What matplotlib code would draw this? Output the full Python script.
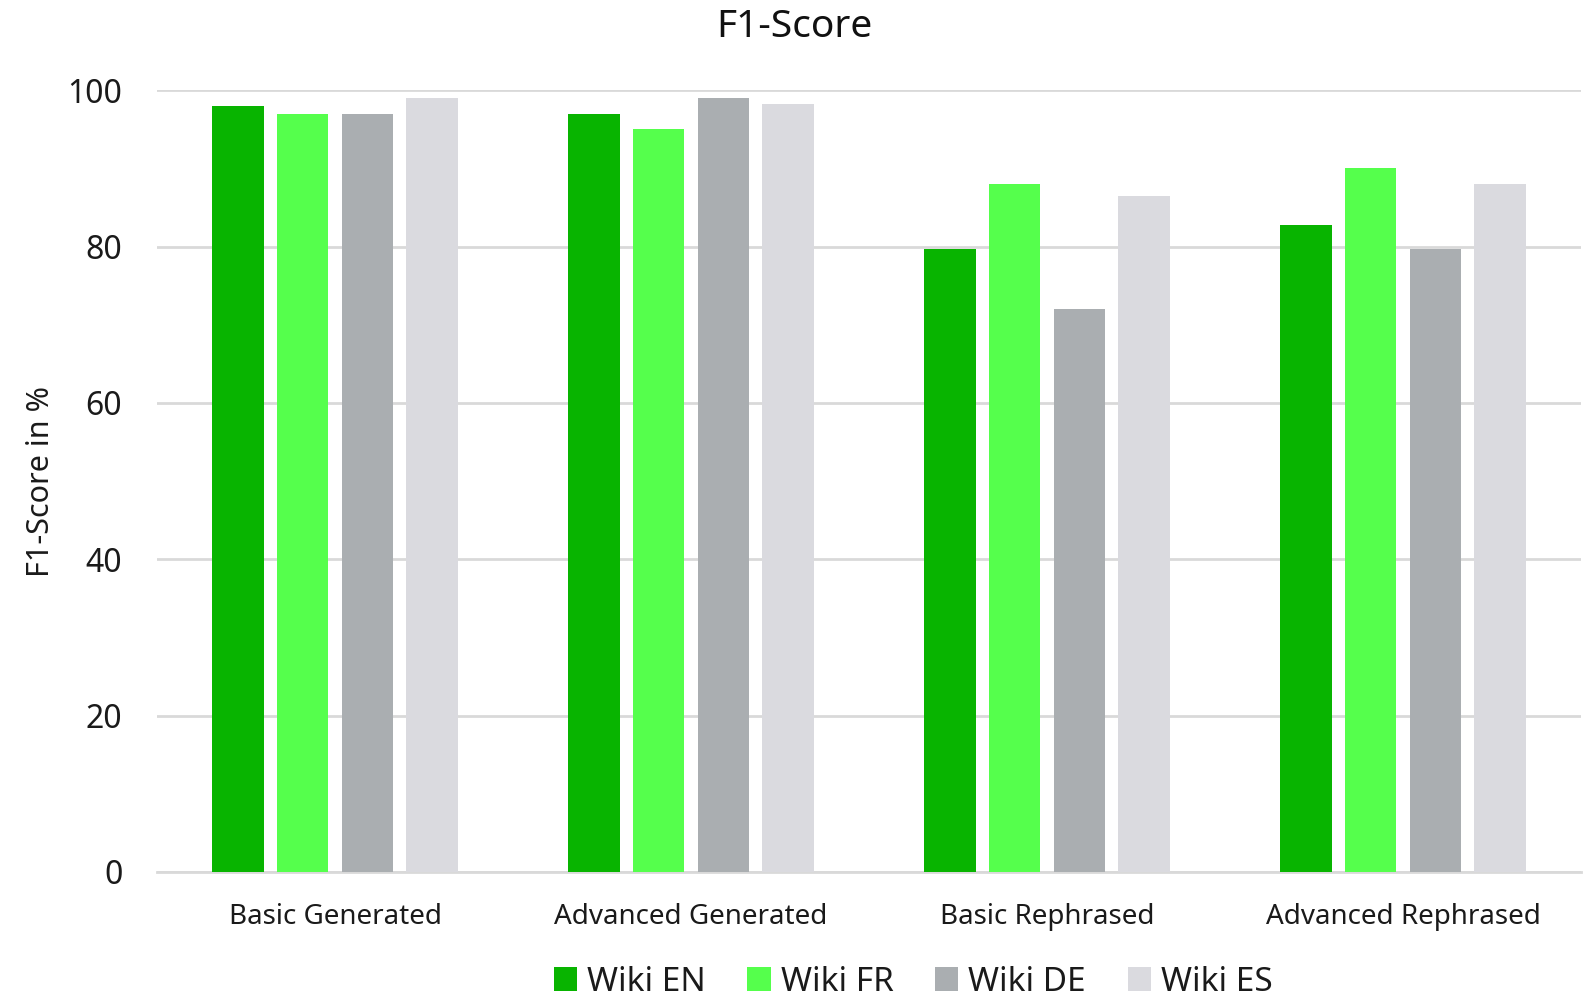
import numpy as np
import matplotlib
matplotlib.use("Agg")
import matplotlib.pyplot as plt

plt.rcParams['font.family'] = ['Noto Sans', 'DejaVu Sans']

categories = ['Basic Generated', 'Advanced Generated', 'Basic Rephrased', 'Advanced Rephrased']
series = ['Wiki EN', 'Wiki FR', 'Wiki DE', 'Wiki ES']
wiki_en = [98, 97, 79.7, 82.7]
wiki_fr = [97, 95, 88, 90]
wiki_de = [97, 99, 72, 79.7]
wiki_es = [99, 98.2, 86.5, 88]
colors = ['#08B400', '#55FF4C', '#AAAEB1', '#DADADF']

fig = plt.figure(figsize=(15.91, 9.96), dpi=100)
ax = fig.add_axes([0.0987, 0.1245, 0.895, 0.785])

x = np.arange(len(categories))
step = 0.182
width = 0.145
for i, (vals, name) in enumerate(zip([wiki_en, wiki_fr, wiki_de, wiki_es], series)):
    ax.bar(x + (i - 1.5) * step, vals, width, color=colors[i], label=name, zorder=3)

ax.set_xlim(-0.5, 3.5)
ax.set_ylim(0, 100)
ax.set_yticks(range(0, 101, 20))
ax.set_xticks(x)
ax.set_xticklabels(categories, fontsize=20, color='#1a1a1a')
ax.tick_params(axis='y', labelsize=23, colors='#1a1a1a', length=0, pad=25)
ax.tick_params(axis='x', length=0, pad=22)
ax.yaxis.grid(True, color='#D9D9D9', linewidth=2, zorder=0)
for s in ['top', 'right', 'left']:
    ax.spines[s].set_visible(False)
ax.spines['bottom'].set_color('#D9D9D9')
ax.spines['bottom'].set_linewidth(2)

ax.set_ylabel('F1-Score in %', fontsize=22, color='#1a1a1a', labelpad=8)
fig.text(0.499, 0.973, 'F1-Score', ha='center', va='center', fontsize=28, color='#111111')

fig.legend(loc='center', bbox_to_anchor=(0.574, 0.014), ncol=4, frameon=False,
           fontsize=24, handlelength=0.7, handleheight=0.7, handletextpad=0.3,
           columnspacing=1.25, labelcolor='#1a1a1a')

fig.savefig('out.png', dpi=100)
